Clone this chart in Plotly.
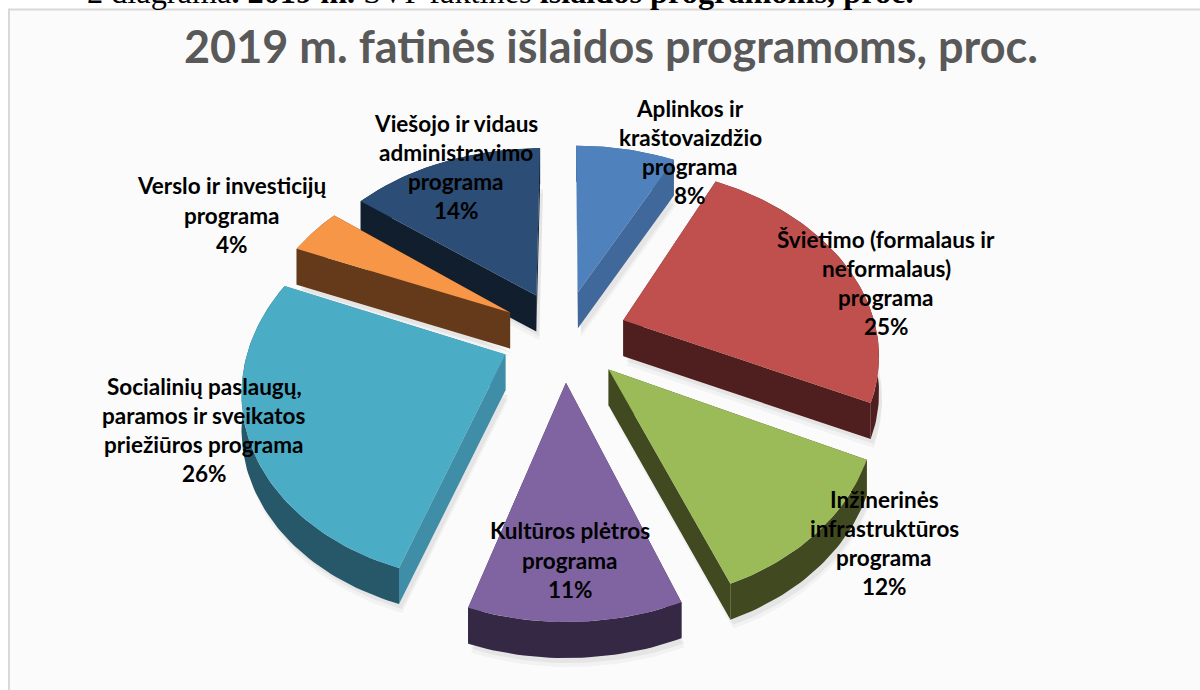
import math
import plotly.graph_objects as go

HEADER_PARTS = ["2 diagrama", ". 2019 m.", " SVP faktinės ", "išlaidos programoms, proc."]
TITLE = "2019 m. fatinės išlaidos programoms, proc."

programs = [
    "Aplinkos ir\nkraštovaizdžio\nprograma",
    "Švietimo (formalaus ir\nneformalaus)\nprograma",
    "Inžinerinės\ninfrastruktūros\nprograma",
    "Kultūros plėtros\nprograma",
    "Socialinių paslaugų,\nparamos ir sveikatos\npriežiūros programa",
    "Verslo ir investicijų\nprograma",
    "Viešojo ir vidaus\nadministravimo\nprograma",
]
shares = [8, 25, 12, 11, 26, 4, 14]

top_colors = ["#4F81BD", "#C0504D", "#9BBB59", "#8064A2", "#4BACC6", "#F79646", "#2C4D75"]
side_colors = ["#41689A", "#4F1E1E", "#40491F", "#352845", "#3F8DA6", "#653A1B", "#111E2E"]
rim_colors = ["#41689A", "#4F1E1E", "#40491F", "#352845", "#26586A", "#653A1B", "#111E2E"]
label_centres = [(690, 152), (886, 283), (884, 543), (570, 560), (204, 430), (232, 215), (456, 167)]
draw_order = [0, 6, 5, 1, 4, 2, 3]

CX, CY, RX, RY, PERSPECTIVE, PULL, DEPTH = 564, 335, 254, 183, 0.1625, 0.25, 36
ANGLE_WARP = math.radians(3.5)
LINE_STEP = 29.3


def project(x, y):
    s = 1 / (1 + PERSPECTIVE * y)
    return CX + RX * x * s, CY - RY * y * s


def warp(theta):
    # the reference's perspective turns the lower slices slightly on the page
    return theta - ANGLE_WARP * math.sqrt(abs(math.sin(theta / 2)))


def wedge(start, end):
    mid = warp((start + end) / 2)
    ox, oy = PULL * math.sin(mid), PULL * math.cos(mid)
    steps = max(8, int((end - start) / 0.02))
    a0, a1 = warp(start), warp(end)
    arc = []
    for i in range(steps + 1):
        t = a0 + (a1 - a0) * i / steps
        arc.append(project(ox + math.sin(t), oy + math.cos(t)))
    return project(ox, oy), arc


def closed(points):
    return [p[0] for p in points] + [points[0][0]], [p[1] for p in points] + [points[0][1]]


def drop(points, amount=DEPTH):
    return [(x, y + amount) for x, y in points]


total = sum(shares)
bounds, acc = [], 0
for v in shares:
    a = acc / total * 2 * math.pi
    acc += v
    bounds.append((a, acc / total * 2 * math.pi))

fig = go.Figure()


def add_poly(points, color, name=None, hover=None):
    xs, ys = closed(points)
    fig.add_trace(go.Scatter(
        x=xs, y=ys, mode="lines", fill="toself", fillcolor=color,
        line=dict(width=0, color=color), showlegend=False, name=name or "",
        hoverinfo="text" if hover else "skip", text=hover, hoveron="fills" if hover else None,
    ))


for i in draw_order:
    apex, arc = wedge(*bounds[i])
    outline = [apex] + arc
    # soft shadow under the extruded slice
    for grow, alpha in ((DEPTH + 9, 0.035), (DEPTH + 5, 0.05)):
        add_poly([(x + 3, y) for x, y in drop(outline, grow)], f"rgba(0,0,0,{alpha})")
    # rim wall, then both radial walls
    add_poly(arc + drop(arc)[::-1], rim_colors[i])
    add_poly([apex, arc[0]] + drop([arc[0], apex]), side_colors[i])
    add_poly([apex, arc[-1]] + drop([arc[-1], apex]), side_colors[i])
    add_poly(outline, top_colors[i], name=programs[i].replace("\n", " "),
             hover=f"{programs[i].replace(chr(10), ' ')}: {shares[i]}%")

annotations = []
FONT = "Lato, 'Open Sans', sans-serif"
for label, value, (lx, ly) in zip(programs, shares, label_centres):
    lines = label.split("\n") + [f"{value}%"]
    for k, line in enumerate(lines):
        annotations.append(dict(
            x=lx, y=ly + (k - (len(lines) - 1) / 2) * LINE_STEP, text=f"<b>{line}</b>", showarrow=False,
            xref="x", yref="y", xanchor="center", yanchor="middle",
            font=dict(family=FONT, size=22.5, color="#000000"),
        ))
annotations.append(dict(
    x=611, y=46, text=f"<b>{TITLE}</b>", showarrow=False, xref="x", yref="y",
    xanchor="center", yanchor="middle", font=dict(family=FONT, size=45, color="#595959"),
))
header = f"{HEADER_PARTS[0]}<b>{HEADER_PARTS[1]}</b>{HEADER_PARTS[2]}<b>{HEADER_PARTS[3]}</b>"
annotations.append(dict(
    x=85 / 1200, y=1, yshift=8, text=header, showarrow=False,
    xref="paper", yref="paper", xanchor="left", yanchor="middle",
    font=dict(family="Liberation Serif", size=32.3, color="#000000"),
))

fig.update_layout(
    width=1200, height=690, autosize=False,
    margin=dict(l=0, r=0, t=0, b=0),
    paper_bgcolor="#FFFFFF", plot_bgcolor="#FFFFFF",
    xaxis=dict(range=[0, 1200], visible=False, fixedrange=True),
    yaxis=dict(range=[690, 0], visible=False, fixedrange=True),
    showlegend=False, annotations=annotations,
    shapes=[dict(type="rect", xref="x", yref="y", x0=9, y0=9.5, x1=1210, y1=700,
                 fillcolor="#FBFBFB", line=dict(color="#D9D9D9", width=2), layer="below")],
)
fig.write_html("out.html", config={"displayModeBar": False},
               post_script="document.body.style.margin='0';document.body.style.overflow='hidden';")
